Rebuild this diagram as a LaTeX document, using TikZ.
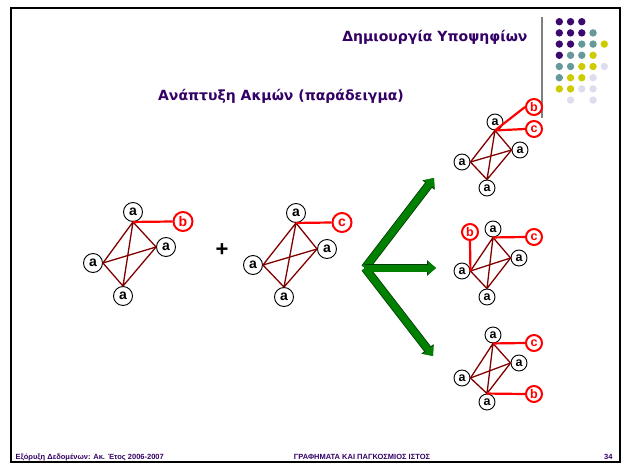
\documentclass[tikz,border=0pt]{standalone}
\usepackage{fontspec}
\setmainfont{Liberation Sans}
\newfontfamily\titlefont{DejaVu Sans}
\usetikzlibrary{arrows.meta,calc}

\definecolor{slidepurple}{RGB}{51,0,102}
\definecolor{dotpurple}{RGB}{60,10,110}
\definecolor{dotteal}{RGB}{102,153,153}
\definecolor{dotyellow}{RGB}{204,204,0}
\definecolor{dotlav}{RGB}{221,221,238}
\definecolor{kred}{RGB}{128,0,0}
\definecolor{forkgreen}{RGB}{0,128,0}

\tikzset{
  vtx/.style={circle,draw=black,fill=white,line width=0.9pt,inner sep=0pt,
    minimum size=19pt,font=\fontsize{14}{14}\selectfont\bfseries},
  svtx/.style={vtx,minimum size=16pt,font=\fontsize{12.5}{12.5}\selectfont\bfseries},
  newvtx/.style={vtx,draw=red,text=red,line width=2pt},
  snewvtx/.style={svtx,draw=red,text=red,line width=2pt},
  kedge/.style={draw=kred,line width=1.3pt},
  newlink/.style={draw=red,line width=2.2pt},
  forkarrow/.style={draw=forkgreen,line width=7pt,
    -{Triangle[length=8pt,width=13pt]},
    preaction={draw=black!55!forkgreen,line width=8.6pt,
      -{Triangle[length=9pt,width=15pt]}}}
}

\begin{document}
\begin{tikzpicture}[x=1pt,y=-1pt]
  \useasboundingbox (0,0) rectangle (625,464);
  % Slide frame
  \draw[line width=2.5pt] (11,8) rectangle (620,462);
  \draw[gray,line width=1.8pt] (542,17) -- (542,118);
  % Dots
  \foreach \c/\r/\col in {0/0/dotpurple,1/0/dotpurple,2/0/dotpurple,
      0/1/dotpurple,1/1/dotpurple,2/1/dotpurple,3/1/dotteal,
      0/2/dotpurple,1/2/dotpurple,2/2/dotteal,3/2/dotteal,4/2/dotyellow,
      0/3/dotpurple,1/3/dotteal,2/3/dotteal,3/3/dotyellow,
      0/4/dotteal,1/4/dotteal,2/4/dotyellow,3/4/dotyellow,4/4/dotlav,
      0/5/dotteal,1/5/dotyellow,2/5/dotyellow,3/5/dotlav,
      0/6/dotyellow,1/6/dotyellow,2/6/dotlav,3/6/dotlav,
      1/7/dotlav,3/7/dotlav} {
    \fill[\col] (559.3+11.25*\c,21.7+11.2*\r) circle (3.7pt);
  }
  % Titles
  \node[anchor=east,text=slidepurple,font=\titlefont\bfseries\fontsize{14}{14}\selectfont]
    (title) at (531,37) {Δημιουργία Υποψηφίων};
  \node[text=slidepurple,font=\titlefont\bfseries\fontsize{14}{14}\selectfont]
    (subtitle) at (281,96) {Ανάπτυξη Ακμών (παράδειγμα)};
  % Graph 1
  \node[vtx] (g1t) at (133,212) {a};
  \node[vtx] (g1r) at (166,247) {a};
  \node[vtx] (g1l) at (93,263) {a};
  \node[vtx] (g1b) at (123,296) {a};
  \node[newvtx] (g1x) at (183,221.5) {b};
  % Graph 2
  \node[vtx] (g2t) at (296,213) {a};
  \node[vtx] (g2r) at (327,249) {a};
  \node[vtx] (g2l) at (253,265) {a};
  \node[vtx] (g2b) at (284,297) {a};
  \node[newvtx] (g2x) at (342,222.5) {c};
  % Candidates
  \node[svtx] (h1t) at (495,122) {a};
  \node[svtx] (h1r) at (520,150) {a};
  \node[svtx] (h1l) at (462,162) {a};
  \node[svtx] (h1b) at (487,188) {a};
  \node[snewvtx] (h1x) at (534,107) {b};
  \node[snewvtx] (h1y) at (534,129) {c};
  \node[svtx] (h2t) at (493,229) {a};
  \node[svtx] (h2r) at (519,258) {a};
  \node[svtx] (h2l) at (462,271) {a};
  \node[svtx] (h2b) at (487,297) {a};
  \node[snewvtx] (h2x) at (470,232) {b};
  \node[snewvtx] (h2y) at (534,237) {c};
  \node[svtx] (h3t) at (493,335) {a};
  \node[svtx] (h3r) at (519,363) {a};
  \node[svtx] (h3l) at (462,378) {a};
  \node[svtx] (h3b) at (487,402) {a};
  \node[snewvtx] (h3x) at (534,394) {b};
  \node[snewvtx] (h3y) at (534,343) {c};
  % Edges
  \foreach \g in {g1,g2,h1,h2,h3} {
    \draw[kedge] (\g t.south) -- (\g l.east) -- (\g b.north) -- (\g r.west) -- (\g t.south) -- (\g b.north);
    \draw[kedge] (\g l.east) -- (\g r.west);
  }
  \draw[newlink] (g1t.south) -- (g1x.west);
  \draw[newlink] (g2t.south) -- (g2x.west);
  \draw[newlink] (h1t.south) -- (h1x.west);
  \draw[newlink] (h1t.south) -- (h1y.west);
  \draw[newlink] (h2x.south) -- (h2l.east);
  \draw[newlink] (h2t.south) -- (h2y.west);
  \draw[newlink] (h3t.south) -- (h3y.west);
  \draw[newlink] (h3b.north) -- (h3x.west);
  % Join
  \node[font=\fontsize{22}{22}\selectfont\bfseries] (plus) at (222,250) {+};
  \coordinate (fork) at (365,268);
  \coordinate (up) at (434,178);
  \coordinate (mid) at (436,268);
  \coordinate (down) at (433,356);
  \draw[forkarrow] (fork) -- (up);
  \draw[forkarrow] (fork) -- (down);
  \draw[forkarrow] (fork) -- (mid);
  % Footer
  \node[anchor=base west,text=slidepurple,font=\fontsize{7.5}{7.5}\selectfont\bfseries]
    (foot1) at (12,459) {Εξόρυξη Δεδομένων: Ακ. Έτος 2006-2007};
  \node[anchor=base,text=slidepurple,font=\fontsize{7.5}{7.5}\selectfont\bfseries]
    (foot2) at (362,459) {ΓΡΑΦΗΜΑΤΑ ΚΑΙ ΠΑΓΚΟΣΜΙΟΣ ΙΣΤΟΣ};
  \node[anchor=base east,text=slidepurple,font=\fontsize{7.5}{7.5}\selectfont\bfseries]
    (foot3) at (616,459) {34};
\end{tikzpicture}
\end{document}
